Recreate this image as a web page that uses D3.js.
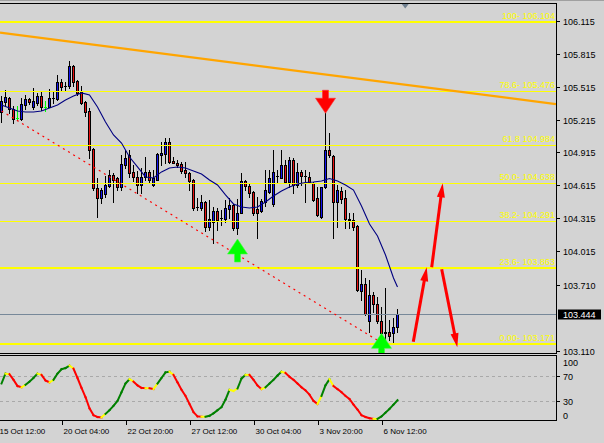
<!DOCTYPE html>
<html><head><meta charset="utf-8">
<script src="https://cdn.jsdelivr.net/npm/d3@7/dist/d3.min.js"></script>
<style>
html,body{margin:0;padding:0;background:#d3d3d3;overflow:hidden}
svg{display:block}
text{font-family:"Liberation Sans",Arial,sans-serif}
</style></head><body>
<svg id="c" width="604" height="443"></svg>
<script>
// ---------- data ----------
const opens = [105.284,105.375,105.411,105.311,105.229,105.220,105.347,105.402,105.329,105.366,
105.429,105.329,105.329,105.409,105.402,105.557,105.518,105.520,105.703,105.566,
105.466,105.375,105.293,104.947,104.592,104.500,104.537,104.610,104.710,104.683,
104.601,104.801,104.892,104.738,104.692,104.619,104.692,104.738,104.619,104.665,
104.892,104.901,105.011,104.838,104.819,104.810,104.756,104.728,104.665,104.419,
104.409,104.464,104.236,104.282,104.382,104.318,104.309,104.400,104.437,104.227,
104.364,104.655,104.610,104.555,104.400,104.382,104.464,104.555,104.446,104.701,
104.683,104.801,104.646,104.847,104.619,104.738,104.701,104.692,104.637,104.500,
104.328,104.601,104.938,104.883,104.464,104.564,104.500,104.309,104.300,104.245,
103.654,103.718,103.381,103.617,103.535,103.381,103.280,103.280,103.271,103.326];
const highs = [105.429,105.484,105.420,105.338,105.338,105.411,105.438,105.411,105.502,105.457,
105.466,105.384,105.493,105.466,105.620,105.584,105.557,105.748,105.712,105.575,
105.520,105.384,105.320,104.956,104.683,104.592,104.701,104.756,104.728,104.692,
104.892,104.938,104.938,104.801,104.747,104.774,104.874,104.756,104.756,104.910,
105.011,105.047,105.047,104.874,104.847,104.828,104.828,104.738,104.670,104.500,
104.528,104.470,104.482,104.419,104.409,104.391,104.482,104.500,104.446,104.491,
104.728,104.665,104.637,104.560,104.510,104.491,104.756,104.756,104.938,104.756,
104.938,104.847,104.874,104.865,104.819,104.756,104.756,104.738,104.646,104.601,
104.601,105.275,105.092,104.892,104.619,104.601,104.573,104.364,104.364,104.255,
103.845,103.772,103.754,103.645,103.599,103.508,103.681,103.390,103.408,103.490];
const lows = [105.193,105.338,105.275,105.184,105.211,105.211,105.311,105.357,105.311,105.347,
105.302,105.293,105.329,105.366,105.393,105.484,105.484,105.502,105.520,105.438,
105.357,105.247,104.865,104.573,104.328,104.455,104.510,104.601,104.464,104.573,
104.573,104.774,104.692,104.655,104.546,104.546,104.665,104.646,104.610,104.660,
104.801,104.819,104.819,104.815,104.783,104.728,104.692,104.573,104.391,104.391,
104.391,104.200,104.209,104.091,104.209,104.255,104.282,104.318,104.209,104.173,
104.364,104.573,104.510,104.346,104.136,104.373,104.428,104.546,104.428,104.646,
104.683,104.637,104.601,104.546,104.601,104.619,104.464,104.637,104.475,104.340,
104.322,104.592,104.874,104.136,104.236,104.455,104.227,104.227,104.209,103.655,
103.572,103.435,103.280,103.462,103.362,103.226,103.208,103.208,103.189,103.280];
const closes = [105.384,105.420,105.311,105.220,105.229,105.357,105.402,105.375,105.384,105.429,
105.329,105.329,105.411,105.413,105.557,105.511,105.521,105.703,105.557,105.457,
105.366,105.284,104.938,104.592,104.500,104.573,104.619,104.710,104.665,104.601,
104.810,104.865,104.728,104.692,104.619,104.692,104.738,104.665,104.683,104.901,
104.910,105.011,104.828,104.819,104.801,104.747,104.728,104.655,104.409,104.416,
104.464,104.236,104.309,104.382,104.300,104.316,104.409,104.437,104.227,104.364,
104.655,104.610,104.546,104.364,104.364,104.473,104.573,104.683,104.738,104.699,
104.801,104.646,104.847,104.619,104.738,104.701,104.699,104.646,104.482,104.346,
104.601,104.938,104.892,104.464,104.573,104.491,104.309,104.300,104.236,103.663,
103.718,103.444,103.617,103.535,103.381,103.271,103.271,103.244,103.326,103.444];

// moving average (read at every second bar + last bar)
const maIdx = [0,2,4,6,8,10,12,14,16,18,20,22,24,26,28,30,32,34,36,38,40,42,44,46,48,
50,52,54,56,58,60,62,64,66,68,70,72,74,76,78,80,82,84,86,88,90,92,94,96,98,99];
const maVal = [105.347,105.320,105.293,105.284,105.284,105.293,105.320,105.347,105.393,105.429,
105.457,105.438,105.329,105.193,105.074,105.001,104.874,104.783,104.692,104.683,
104.738,104.774,104.783,104.774,104.747,104.719,104.665,104.619,104.528,104.446,
104.419,104.409,104.419,104.464,104.519,104.564,104.601,104.628,104.642,104.646,
104.655,104.678,104.655,104.619,104.573,104.428,104.264,104.154,103.981,103.772,103.690];

// oscillator (sub window, 0..100)
const osc = [58,74,73,64,54,52,56,61,67,74,72,63,60,64,74,81,83,87,82,67,
51,36,18,7,4,3.5,9,15,22,30,44,58,65,61,55,51,50.5,50.5,49,58,
67,76,77,72,60,48,38,25,12,5,4.5,4.5,6,10,15,20,32,48,46,50,
66,72,72,64,55,49,52,58,64,71,77,75,69,64,58,52,47,40,30,25,
38,55,65,54,49,44,38,33,24,16,7,4,2,1,1,5,11,17,24,31];
const oscLevels = [70,30];
const oscTickLabels = [100,70,30,0];

// Fibonacci levels
const fibNames  = ["100","78.6","61.8","50.0","38.2","23.6","0.00"];
const fibPrices = [106.104,105.476,104.984,104.638,104.291,103.863,103.171];
const fibLabels = ["100- 106.104","78.6- 105.476","61.8 104.984","50.0- 104.638","38.2- 104.291","23.6- 103.863","0.00- 103.171"];

// price axis
const priceTicks = [106.115,105.815,105.515,105.215,104.915,104.615,104.315,104.015,103.710,103.110];

// time axis
const timeIdx = [-1,15,31,47,63,79,95];
const timeLabels = ["15 Oct 12:00","20 Oct 04:00","22 Oct 20:00","27 Oct 12:00","30 Oct 04:00","3 Nov 20:00","6 Nov 12:00"];

// trend lines (bar index, price)
const orangeIdx = [0,100], orangePrice = [106.004,105.536];
const dotIdx = [0,94], dotPrice = [105.293,103.205];

// signal arrows (bar index, price of tip)
const upArrowIdx = [59,95], upArrowPrice = [104.127,103.268];
const downArrowIdx = [81], downArrowPrice = [105.272];

// drawn red arrows (from -> to)
const arrFromIdx = [102.95,107.55,110.05], arrFromPrice = [103.192,103.870,103.851];
const arrToIdx   = [106.3,110.3,113.95],   arrToPrice   = [103.870,104.634,103.141];

// ---------- layout ----------
const svg = d3.select('#c');
const W = 604, H = 443;
const plotR = 556, mainTop = 3, mainBot = 353, subTop = 355, subBot = 420;
const x = d3.scaleLinear().domain([0,1]).range([1.5,5.5]);
const y = d3.scaleLinear().domain([103.089,106.276]).range([mainBot,mainTop]);
const yo = d3.scaleLinear().domain([0,100]).range([419.5,357.5]);

svg.append('rect').attr('width',W).attr('height',H).attr('fill','#d3d3d3');
svg.append('line').attr('x1',0).attr('x2',W).attr('y1',0.5).attr('y2',0.5).attr('stroke','#a0a0a0');

const defs = svg.append('defs');
defs.append('clipPath').attr('id','cm').append('rect').attr('x',0).attr('y',mainTop+1).attr('width',plotR).attr('height',mainBot-mainTop-1);
defs.append('clipPath').attr('id','cs').append('rect').attr('x',0).attr('y',subTop+1).attr('width',plotR).attr('height',subBot-subTop-1);

const gm = svg.append('g').attr('clip-path','url(#cm)');

// candles
const cg = gm.append('g').attr('shape-rendering','crispEdges');
opens.forEach((o,i)=>{
  const c = closes[i], xc = x(i);
  const doji = o === c;
  const wickCol = doji ? '#00ff00' : '#000';
  cg.append('line').attr('x1',xc).attr('x2',xc).attr('y1',Math.round(y(highs[i]))).attr('y2',Math.round(y(lows[i]))+1).attr('stroke',wickCol);
  const yt = Math.round(y(Math.max(o,c))), yb = Math.round(y(Math.min(o,c)));
  if (doji) {
    cg.append('line').attr('x1',xc-1.5).attr('x2',xc+1.5).attr('y1',yt+0.5).attr('y2',yt+0.5).attr('stroke','#00ff00');
  } else if (yb - yt < 2) {
    cg.append('rect').attr('x',xc-1.5).attr('y',yt).attr('width',3).attr('height',Math.max(1,yb-yt+1)).attr('fill','#000');
  } else {
    cg.append('rect').attr('x',xc-1).attr('y',yt+0.5).attr('width',2).attr('height',yb-yt)
      .attr('fill', c > o ? '#1515f0' : '#e81010').attr('stroke','#000').attr('stroke-width',1);
  }
});

// current price line
const lastY = Math.round(y(closes[closes.length-1]))+0.5;
gm.append('line').attr('x1',0).attr('x2',plotR).attr('y1',lastY).attr('y2',lastY).attr('stroke','#778899');

// fib lines
const thick = new Set(["100","23.6","0.00"]);
fibPrices.forEach((p,k)=>{
  const yy = Math.round(y(p));
  const w = thick.has(fibNames[k]) ? 2 : 1;
  gm.append('line').attr('x1',0).attr('x2',plotR).attr('y1',w===2?yy:yy+0.5).attr('y2',w===2?yy:yy+0.5)
    .attr('stroke','#ffff00').attr('stroke-width',w).attr('shape-rendering','crispEdges');
});

// orange trend ray
{
  const x0 = x(orangeIdx[0]), x1 = x(orangeIdx[1]);
  const y0 = y(orangePrice[0]), y1 = y(orangePrice[1]);
  const s = (y1-y0)/(x1-x0);
  gm.append('line').attr('x1',0).attr('y1',y0 - s*x0).attr('x2',plotR).attr('y2',y0 + s*(plotR-x0))
    .attr('stroke','#ffa500').attr('stroke-width',2.2);
}
// red dotted trend line
gm.append('line').attr('x1',x(dotIdx[0])).attr('y1',y(dotPrice[0])).attr('x2',x(dotIdx[1])).attr('y2',y(dotPrice[1]))
  .attr('stroke','#ff0000').attr('stroke-width',1.2).attr('stroke-dasharray','2,4');

// moving average
gm.append('path').datum(maIdx.map((d,k)=>[x(d),y(maVal[k])]))
  .attr('d',d3.line()).attr('fill','none').attr('stroke','#000080').attr('stroke-width',1.1);

// signal arrows
function arrowPath(dir){ // dir=1 up (tip at top), -1 down
  const pts = [[0,0],[10,15],[3,15],[3,23],[-3,23],[-3,15],[-10,15]];
  return 'M' + pts.map(p=>[p[0], p[1]*dir].join(',')).join('L') + 'Z';
}
upArrowIdx.forEach((d,k)=>{
  gm.append('path').attr('d',arrowPath(1)).attr('transform',`translate(${x(d)},${y(upArrowPrice[k])})`)
    .attr('fill','#00ff00').attr('stroke','#40ff40').attr('stroke-width',0.6);
});
downArrowIdx.forEach((d,k)=>{
  gm.append('path').attr('d',arrowPath(-1)).attr('transform',`translate(${x(d)},${y(downArrowPrice[k])})`)
    .attr('fill','#ff0000').attr('stroke','#ff3030').attr('stroke-width',0.6);
});

// drawn red arrows
arrFromIdx.forEach((d,k)=>{
  const xa = x(d), ya = y(arrFromPrice[k]), xb = x(arrToIdx[k]), yb = y(arrToPrice[k]);
  const L = Math.hypot(xb-xa, yb-ya), ux = (xb-xa)/L, uy = (yb-ya)/L;
  const hl = 14, hw = 4;
  const bx = xb - ux*hl, by = yb - uy*hl;
  gm.append('line').attr('x1',xa).attr('y1',ya).attr('x2',xb-ux*hl*0.7).attr('y2',yb-uy*hl*0.7)
    .attr('stroke','#ff0000').attr('stroke-width',3);
  gm.append('path').attr('d',`M${xb},${yb}L${bx-uy*hw},${by+ux*hw}L${bx+uy*hw},${by-ux*hw}Z`).attr('fill','#ff0000');
});

// fib labels
fibPrices.forEach((p,k)=>{
  svg.append('text').attr('x',555).attr('y',Math.round(y(p))-3).attr('text-anchor','end')
    .attr('font-size',9).attr('fill','#ffff00').text(fibLabels[k]);
});

// shift marker
svg.append('path').attr('d','M401,3L409.5,3L405.2,8.5Z').attr('fill','#708090');

// ---------- sub window ----------
const gs = svg.append('g').attr('clip-path','url(#cs)');
oscLevels.forEach(v=>{
  gs.append('line').attr('x1',0).attr('x2',plotR).attr('y1',Math.round(yo(v))+0.5).attr('y2',Math.round(yo(v))+0.5)
    .attr('stroke','#a9a9a9').attr('stroke-dasharray','3,3');
});
for (let i=1;i<osc.length;i++){
  const dd = Math.sign(osc[i]-osc[i-1]);
  const pd = i>1 ? Math.sign(osc[i-1]-osc[i-2]) : dd;
  let col = dd>0 ? '#008000' : '#ff0000';
  if (dd===0 || (pd!==0 && dd!==pd)) col = '#ffff00';
  gs.append('line').attr('x1',x(i-1)).attr('y1',yo(osc[i-1])).attr('x2',x(i)).attr('y2',yo(osc[i]))
    .attr('stroke',col).attr('stroke-width',2).attr('stroke-linecap','square');
}

// ---------- frames ----------
const fr = svg.append('g').attr('stroke','#000').attr('shape-rendering','crispEdges');
fr.append('line').attr('x1',0).attr('x2',plotR+1).attr('y1',mainTop+0.5).attr('y2',mainTop+0.5);
fr.append('line').attr('x1',0).attr('x2',plotR+1).attr('y1',mainBot+0.5).attr('y2',mainBot+0.5);
fr.append('line').attr('x1',0).attr('x2',plotR+1).attr('y1',subTop+0.5).attr('y2',subTop+0.5);
fr.append('line').attr('x1',0).attr('x2',plotR+1).attr('y1',subBot+0.5).attr('y2',subBot+0.5);
fr.append('line').attr('x1',plotR+0.5).attr('x2',plotR+0.5).attr('y1',mainTop).attr('y2',mainBot+1);
fr.append('line').attr('x1',plotR+0.5).attr('x2',plotR+0.5).attr('y1',subTop).attr('y2',subBot+1);

// price axis
priceTicks.forEach(p=>{
  const yy = Math.round(y(p))+0.5;
  fr.append('line').attr('x1',plotR+1).attr('x2',plotR+4).attr('y1',yy).attr('y2',yy);
  svg.append('text').attr('x',563).attr('y',yy+3.2).attr('font-size',9).attr('fill','#000').text(p.toFixed(3));
});
// current price box
svg.append('rect').attr('x',558).attr('y',lastY-5).attr('width',43).attr('height',10).attr('fill','#000');
svg.append('text').attr('x',563).attr('y',lastY+3.2).attr('font-size',9).attr('fill','#fff').text(closes[closes.length-1].toFixed(3));

// oscillator axis
oscTickLabels.forEach(v=>{
  let yy = Math.round(yo(v))+0.5;
  if (v===70 || v===30) fr.append('line').attr('x1',plotR+1).attr('x2',plotR+4).attr('y1',yy).attr('y2',yy);
  if (v===100) yy += 4.5;
  if (v===0) yy -= 5;
  svg.append('text').attr('x',563).attr('y',yy+3.2).attr('font-size',9).attr('fill','#000').text(v);
});

// time axis
timeIdx.forEach((d,k)=>{
  const xx = Math.round(x(d))+0.5;
  fr.append('line').attr('x1',xx).attr('x2',xx).attr('y1',subBot+1).attr('y2',subBot+5);
  svg.append('text').attr('x',xx+1).attr('y',433.5).attr('font-size',8).attr('fill','#000').text(timeLabels[k]);
});
</script>
</body></html>
